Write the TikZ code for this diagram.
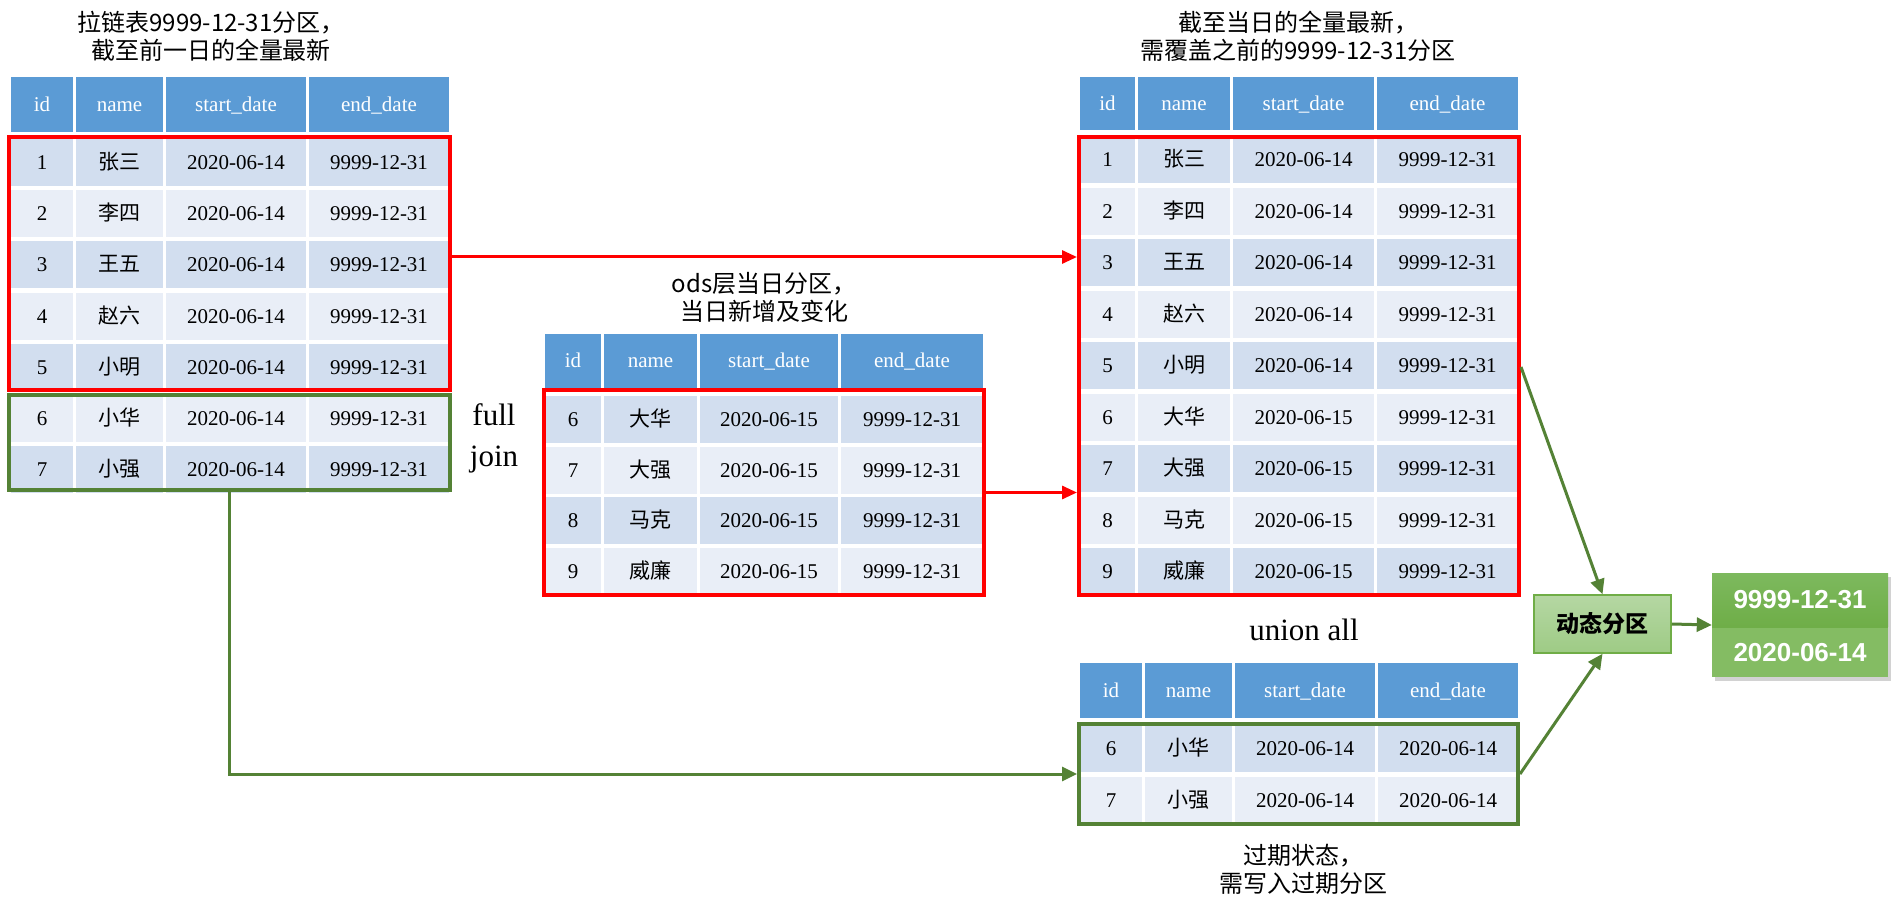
\documentclass[tikz,border=0pt]{standalone}
\usepackage{fontspec}
\setmainfont{Liberation Serif}
\newfontfamily\cjk{Noto Sans CJK SC}
\newfontfamily\arialf{Liberation Sans}
\usetikzlibrary{arrows.meta,shadows,calc}
\definecolor{hdr}{HTML}{5B9BD5}
\definecolor{bandA}{HTML}{D2DEEF}
\definecolor{bandB}{HTML}{E9EEF7}
\definecolor{redc}{HTML}{FF0000}
\definecolor{grn}{HTML}{548235}
\definecolor{dynTop}{HTML}{B5D7A3}
\definecolor{dynBot}{HTML}{9ECB85}
\definecolor{dynLine}{HTML}{70AD47}
\definecolor{outTop}{HTML}{7DB95E}
\definecolor{outMid}{HTML}{6FAE48}
\definecolor{outLow}{HTML}{84BC63}
\tikzset{
  cell/.style={inner sep=0pt, draw=none, text height=14pt, text depth=0pt,
    font=\fontsize{21}{25}\selectfont},
  redbox/.style={draw=redc, line width=4pt, inner sep=0pt},
  grnbox/.style={draw=grn, line width=4pt, inner sep=0pt},
  ttl/.style={align=center, inner sep=0pt, font=\cjk\fontsize{24}{28}\selectfont},
  serifttl/.style={align=center, inner sep=0pt, font=\fontsize{31}{41}\selectfont},
  redarr/.style={draw=redc, line width=3pt, -{Triangle[length=15pt,width=13pt]}},
  grnarr/.style={draw=grn, line width=3pt, -{Triangle[length=15pt,width=14pt]}},
  grnline/.style={draw=grn, line width=3pt},
}
% #1 name, #2 top, #3 height, #4 fill, #5 font prefix, #6-#9 cell texts
\newcommand\mkrow[9]{%
  \node[cell,fill=#4,minimum width={(\xb-\xa)*1pt},minimum height={#3*1pt}] (#1-1) at ({(\xa+\xb)/2},{#2+#3/2}) {#5#6};
  \node[cell,fill=#4,minimum width={(\xd-\xc)*1pt},minimum height={#3*1pt}] (#1-2) at ({(\xc+\xd)/2},{#2+#3/2}) {#5#7};
  \node[cell,fill=#4,minimum width={(\xf-\xe)*1pt},minimum height={#3*1pt}] (#1-3) at ({(\xe+\xf)/2},{#2+#3/2}) {#5#8};
  \node[cell,fill=#4,minimum width={(\xh-\xg)*1pt},minimum height={#3*1pt}] (#1-4) at ({(\xg+\xh)/2},{#2+#3/2}) {#5#9};
}
\newcommand\hcol{\color{white}}
\newcommand\bcol{\color{black}}
\begin{document}
\begin{tikzpicture}[x=1pt,y=-1pt]
\useasboundingbox[fill=white] (0,0) rectangle (1891,901);

% ---------------- Table 1 ----------------
\def\xa{11}\def\xb{73}\def\xc{76}\def\xd{163}\def\xe{166}\def\xf{306}\def\xg{309}\def\xh{449}
\node[ttl] (t1title) at (211,36) {拉链表9999-12-31分区，\\截至前一日的全量最新};
\mkrow{t1h}{77}{55}{hdr}{\hcol}{id}{name}{start\_date}{end\_date}
\mkrow{t1r1}{139}{47}{bandA}{\bcol}{1}{\cjk 张三}{2020-06-14}{9999-12-31}
\mkrow{t1r2}{190.2}{47}{bandB}{\bcol}{2}{\cjk 李四}{2020-06-14}{9999-12-31}
\mkrow{t1r3}{241.4}{47}{bandA}{\bcol}{3}{\cjk 王五}{2020-06-14}{9999-12-31}
\mkrow{t1r4}{292.6}{47}{bandB}{\bcol}{4}{\cjk 赵六}{2020-06-14}{9999-12-31}
\mkrow{t1r5}{343.8}{47}{bandA}{\bcol}{5}{\cjk 小明}{2020-06-14}{9999-12-31}
\mkrow{t1r6}{395}{47}{bandB}{\bcol}{6}{\cjk 小华}{2020-06-14}{9999-12-31}
\mkrow{t1r7}{446.2}{47}{bandA}{\bcol}{7}{\cjk 小强}{2020-06-14}{9999-12-31}
\node[redbox, minimum width=441pt, minimum height=253pt] (b1) at (229.5,263.5) {};
\node[grnbox, minimum width=441pt, minimum height=95pt] (g1) at (229.5,442.5) {};
\node[serifttl] (fj) at (494,438.5) {full\\join};

% ---------------- Table 2 ----------------
\def\xa{545}\def\xb{601}\def\xc{604}\def\xd{697}\def\xe{700}\def\xf{838}\def\xg{841}\def\xh{983}
\node[ttl] (t2title) at (764,297.5) {ods层当日分区，\\当日新增及变化};
\mkrow{t2h}{334}{54}{hdr}{\hcol}{id}{name}{start\_date}{end\_date}
\mkrow{t2r6}{396}{47}{bandA}{\bcol}{6}{\cjk 大华}{2020-06-15}{9999-12-31}
\mkrow{t2r7}{446.7}{47}{bandB}{\bcol}{7}{\cjk 大强}{2020-06-15}{9999-12-31}
\mkrow{t2r8}{497.4}{47}{bandA}{\bcol}{8}{\cjk 马克}{2020-06-15}{9999-12-31}
\mkrow{t2r9}{548.1}{47}{bandB}{\bcol}{9}{\cjk 威廉}{2020-06-15}{9999-12-31}
\node[redbox, minimum width=440pt, minimum height=205pt] (b2) at (764,492.5) {};

% ---------------- Table 3 ----------------
\def\xa{1080}\def\xb{1135}\def\xc{1138}\def\xd{1230}\def\xe{1233}\def\xf{1374}\def\xg{1377}\def\xh{1518}
\node[ttl] (t3title) at (1298,36) {截至当日的全量最新，\\需覆盖之前的9999-12-31分区};
\mkrow{t3h}{77}{53}{hdr}{\hcol}{id}{name}{start\_date}{end\_date}
\mkrow{t3r1}{136.5}{47}{bandA}{\bcol}{1}{\cjk 张三}{2020-06-14}{9999-12-31}
\mkrow{t3r2}{188}{47}{bandB}{\bcol}{2}{\cjk 李四}{2020-06-14}{9999-12-31}
\mkrow{t3r3}{239.4}{47}{bandA}{\bcol}{3}{\cjk 王五}{2020-06-14}{9999-12-31}
\mkrow{t3r4}{290.9}{47}{bandB}{\bcol}{4}{\cjk 赵六}{2020-06-14}{9999-12-31}
\mkrow{t3r5}{342.3}{47}{bandA}{\bcol}{5}{\cjk 小明}{2020-06-14}{9999-12-31}
\mkrow{t3r6}{393.8}{47}{bandB}{\bcol}{6}{\cjk 大华}{2020-06-15}{9999-12-31}
\mkrow{t3r7}{445.3}{47}{bandA}{\bcol}{7}{\cjk 大强}{2020-06-15}{9999-12-31}
\mkrow{t3r8}{496.7}{47}{bandB}{\bcol}{8}{\cjk 马克}{2020-06-15}{9999-12-31}
\mkrow{t3r9}{548.2}{47}{bandA}{\bcol}{9}{\cjk 威廉}{2020-06-15}{9999-12-31}
\node[redbox, minimum width=440pt, minimum height=458pt] (b3) at (1299,366) {};

% ---------------- Table 4 ----------------
\def\xa{1080}\def\xb{1142}\def\xc{1145}\def\xd{1232}\def\xe{1235}\def\xf{1375}\def\xg{1378}\def\xh{1518}
\node[serifttl] (ua) at (1304,630) {union all};
\mkrow{t4h}{663}{55}{hdr}{\hcol}{id}{name}{start\_date}{end\_date}
\mkrow{t4r6}{724.5}{47}{bandA}{\bcol}{6}{\cjk 小华}{2020-06-14}{2020-06-14}
\mkrow{t4r7}{776.5}{47}{bandB}{\bcol}{7}{\cjk 小强}{2020-06-14}{2020-06-14}
\node[grnbox, minimum width=439pt, minimum height=100pt] (g4) at (1298.5,774) {};
\node[ttl] (t4title) at (1303,869) {过期状态，\\需写入过期分区};

% ---------------- Dynamic partition ----------------
\node[draw=dynLine, line width=1.5pt, top color=dynTop, bottom color=dynBot,
      minimum width=137pt, minimum height=58pt, inner sep=0pt,
      font=\cjk\bfseries\fontsize{23}{26}\selectfont] (dyn) at (1602.5,624) {动态分区};

\node[fill=outMid, minimum width=176pt, minimum height=104pt, inner sep=0pt,
      drop shadow={shadow xshift=3pt, shadow yshift=-4pt, opacity=0.35}] (out) at (1800,625) {};
\node[top color=outTop, bottom color=outMid, minimum width=176pt, minimum height=53pt, inner sep=0pt,
      font=\arialf\bfseries\fontsize{26}{30}\selectfont, text=white] (o1) at (1800,599.5) {9999-12-31};
\node[fill=outLow, minimum width=176pt, minimum height=49pt, inner sep=0pt,
      font=\arialf\bfseries\fontsize{26}{30}\selectfont, text=white] (o2) at (1800,652.5) {2020-06-14};

% ---------------- Connectors ----------------
\coordinate (y257) at (0,257);
\coordinate (y367) at (0,367);
\draw[redarr] (b1.east |- y257) -- (b3.west |- y257);
\draw[redarr] (b2.east) -- (b2.east -| b3.west);
\draw[grnarr] (g1.south) -- (g1.south |- g4.west) -- (g4.west);
\draw[grnarr] (b3.east |- y367) -- (dyn.north);
\draw[grnarr] (g4.east) -- (dyn.south);
\draw[grnarr] (dyn.east) -- (out.west);
\end{tikzpicture}
\end{document}
